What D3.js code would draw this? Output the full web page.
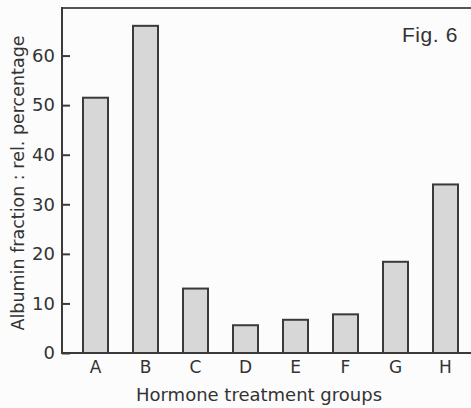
<!DOCTYPE html>
<html>
<head>
<meta charset="utf-8">
<script src="https://cdn.jsdelivr.net/npm/d3@7"></script>
<style>
  html, body { margin: 0; padding: 0; background: #fcfcfc; }
  svg { display: block; }
</style>
</head>
<body>
<svg id="chart" width="471" height="408"></svg>
<script>
// Hormone treatment groups and albumin fraction (relative percentage)
const groups = ["A", "B", "C", "D", "E", "F", "G", "H"];
const albumin = [51.5, 66, 13, 5.6, 6.7, 7.8, 18.4, 34];
const yTicks = [0, 10, 20, 30, 40, 50, 60];

const svg = d3.select("#chart");
const plotLeft = 62, plotRight = 471, plotTop = 8, plotBottom = 353;
const ink = "#3a3a3a";
const font = "'DejaVu Sans', sans-serif";

const x = d3.scaleBand()
  .domain(groups)
  .range([70.5, 470.5])
  .paddingInner(0.5)
  .paddingOuter(0.25);

const y = d3.scaleLinear()
  .domain([0, 70])
  .range([plotBottom, 6]);

// Bars
svg.append("g")
  .selectAll("rect")
  .data(groups)
  .join("rect")
  .attr("x", d => x(d))
  .attr("y", (d, i) => y(albumin[i]))
  .attr("width", x.bandwidth())
  .attr("height", (d, i) => plotBottom - y(albumin[i]))
  .attr("fill", "#d7d7d7")
  .attr("stroke", ink)
  .attr("stroke-width", 2);

// Frame: top line, left axis, baseline
svg.append("line")
  .attr("x1", plotLeft).attr("x2", plotRight)
  .attr("y1", plotTop).attr("y2", plotTop)
  .attr("stroke", "#555").attr("stroke-width", 2);

const yAxis = svg.append("g")
  .attr("transform", `translate(${plotLeft},0)`)
  .call(d3.axisLeft(y).tickValues(yTicks).tickSize(-8).tickPadding(7).tickFormat(d3.format("d")));
yAxis.select(".domain").remove();
yAxis.selectAll(".tick line").attr("stroke", ink).attr("stroke-width", 2);
yAxis.selectAll(".tick text")
  .attr("fill", "#333")
  .style("font-family", font)
  .style("font-size", "18px");

svg.append("line")
  .attr("x1", plotLeft).attr("x2", plotLeft)
  .attr("y1", plotTop - 1).attr("y2", plotBottom + 1)
  .attr("stroke", ink).attr("stroke-width", 2);

const xAxis = svg.append("g")
  .attr("transform", `translate(0,${plotBottom})`)
  .call(d3.axisBottom(x).tickSize(0).tickPadding(8));
xAxis.select(".domain").remove();
xAxis.selectAll(".tick text")
  .attr("fill", "#333")
  .style("font-family", font)
  .style("font-size", "17px");

svg.append("line")
  .attr("x1", plotLeft).attr("x2", plotRight)
  .attr("y1", plotBottom).attr("y2", plotBottom)
  .attr("stroke", ink).attr("stroke-width", 2);

// Axis titles
svg.append("text")
  .attr("x", 259).attr("y", 401)
  .attr("text-anchor", "middle")
  .attr("fill", "#333")
  .style("font-family", font)
  .style("font-size", "18px")
  .text("Hormone treatment groups");

svg.append("text")
  .attr("transform", "translate(24,183) rotate(-90)")
  .attr("text-anchor", "middle")
  .attr("fill", "#333")
  .style("font-family", font)
  .style("font-size", "17.5px")
  .text("Albumin fraction : rel. percentage");

svg.append("text")
  .attr("x", 458).attr("y", 42)
  .attr("text-anchor", "end")
  .attr("fill", "#333")
  .style("font-family", "'Liberation Sans', Arial, sans-serif")
  .style("font-size", "21px")
  .style("letter-spacing", "0.6px")
  .text("Fig. 6");
</script>
</body>
</html>
